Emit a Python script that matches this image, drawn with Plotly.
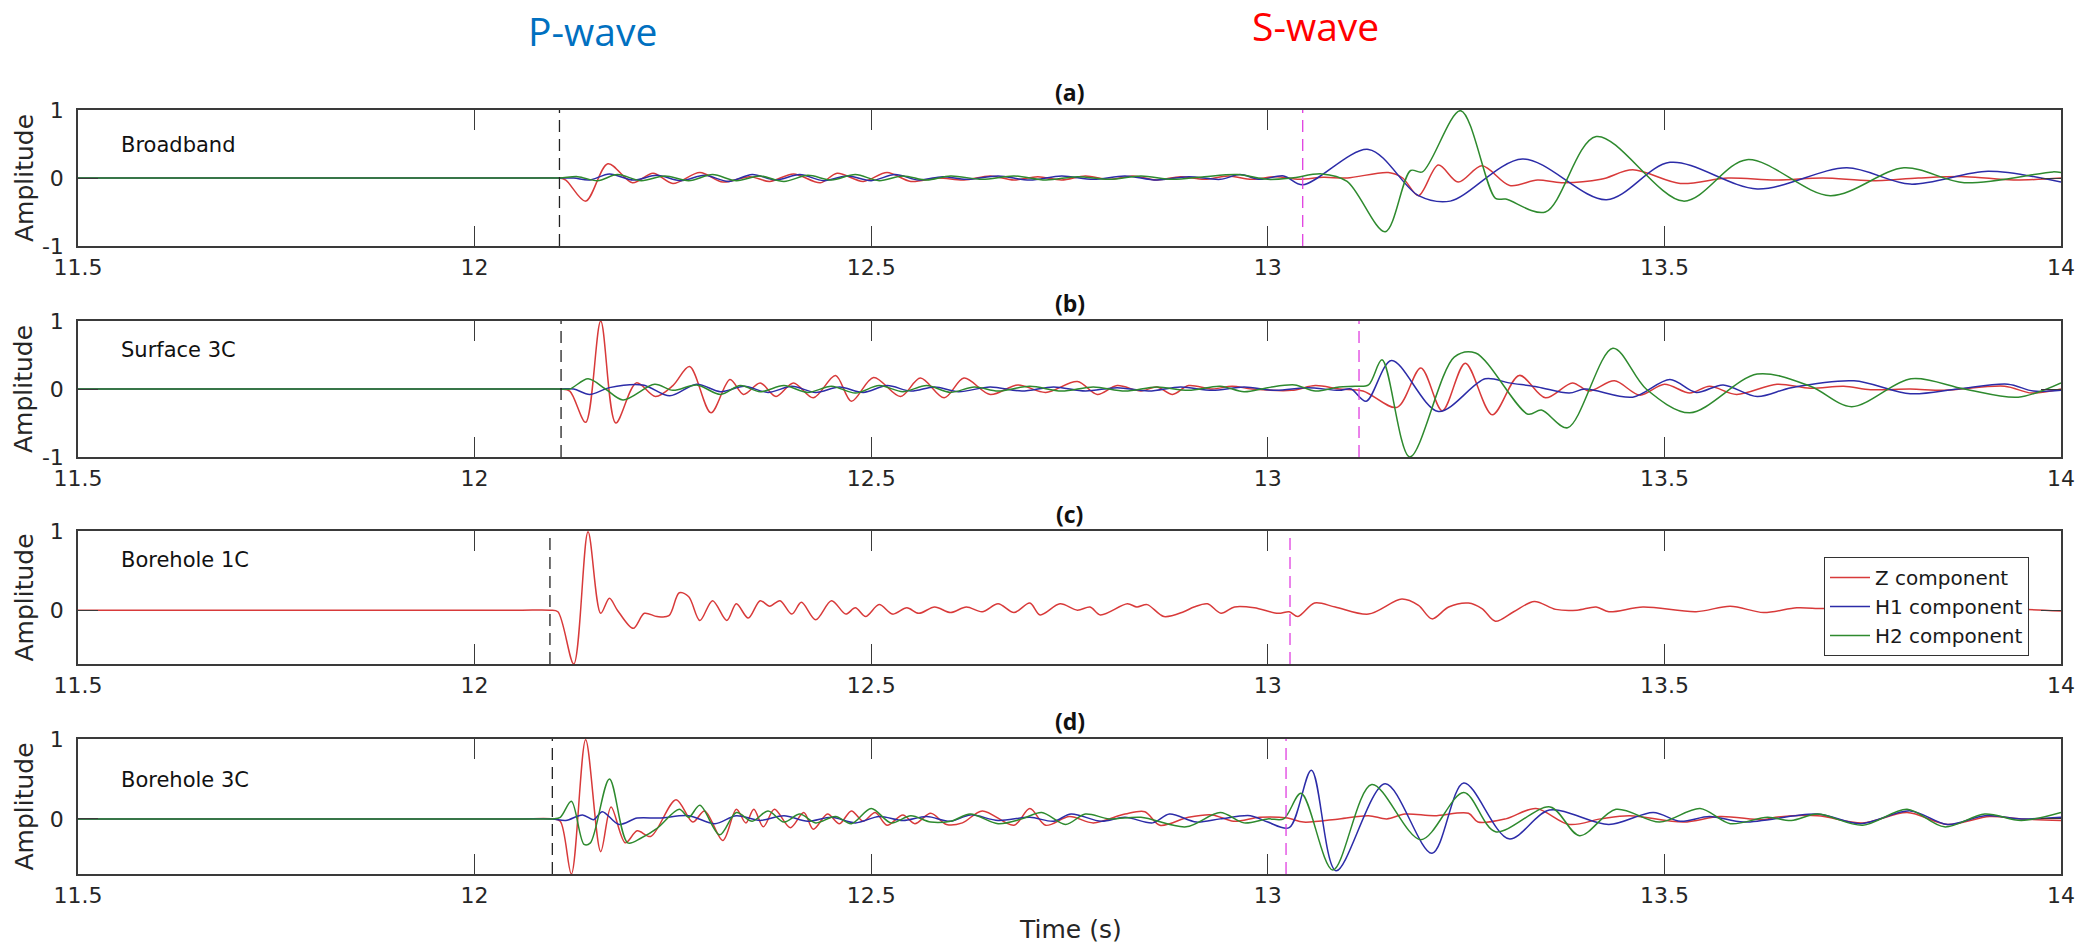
import plotly.graph_objects as go

# ---------------- data (time s, normalised amplitude) ----------------
panel_titles = ["(a)", "(b)", "(c)", "(d)"]
panel_labels = ["Broadband", "Surface 3C", "Borehole 1C", "Borehole 3C"]
component_names = ["Z component", "H1 component", "H2 component"]
x_ticks = [11.5, 12, 12.5, 13, 13.5, 14]
x_ticktext = ["11.5", "12", "12.5", "13", "13.5", "14"]
y_ranges = [[-1, 1], [-1, 1], [-0.68, 1], [-0.69, 1]]
p_picks = [12.107, 12.109, 12.095, 12.098]
s_picks = [13.044, 13.115, 13.028, 13.023]

a_Z = [(11.5, 0), (11.8, 0), (12.0, 0), (12.07, 0), (12.107, 0), (12.115, -0.03), (12.14, -0.34),
       (12.168, 0.21), (12.199, -0.07),
       (12.225, 0.07), (12.25, -0.08), (12.284, 0.08), (12.313, -0.06), (12.347, 0.02), (12.372, -0.05),
       (12.402, 0.06), (12.436, -0.07), (12.457, 0.07), (12.49, -0.05), (12.52, 0.08), (12.55, -0.05),
       (12.584, 0.0), (12.617, -0.03), (12.65, 0.03), (12.68, -0.03), (12.71, 0.02), (12.74, -0.03),
       (12.77, 0.03), (12.80, -0.02), (12.83, 0.03), (12.86, -0.03), (12.89, 0.02), (12.92, -0.02),
       (12.95, 0.03), (12.98, -0.02), (13.01, 0.02), (13.04, -0.02), (13.07, 0.01), (13.10, 0.0),
       (13.152, 0.08), (13.17, 0.0), (13.19, -0.26), (13.215, 0.19), (13.24, -0.06), (13.27, 0.18),
       (13.305, -0.11), (13.34, -0.03), (13.37, -0.07), (13.42, -0.02), (13.46, 0.12), (13.52, -0.08),
       (13.58, 0.0), (13.64, -0.03), (13.70, 0.0), (13.76, -0.04), (13.82, 0.0), (13.88, 0.02),
       (13.94, -0.03), (14.0, 0.0)]
a_H1 = [(11.5, 0), (11.8, 0), (12.0, 0), (12.07, 0), (12.107, 0), (12.125, 0.0), (12.145, -0.03),
        (12.17, 0.06), (12.20, -0.03),
        (12.23, 0.04), (12.26, -0.04), (12.29, 0.04), (12.32, -0.05), (12.35, 0.05), (12.38, -0.03),
        (12.41, 0.05), (12.44, -0.04), (12.47, 0.03), (12.50, -0.04), (12.53, 0.05), (12.56, -0.03),
        (12.59, 0.02), (12.62, -0.02), (12.66, 0.03), (12.70, -0.03), (12.74, 0.03), (12.78, -0.02),
        (12.82, 0.03), (12.86, -0.03), (12.90, 0.02), (12.94, -0.02), (12.965, 0.05), (12.99, -0.02),
        (13.02, 0.03), (13.044, -0.1), (13.127, 0.42), (13.19, -0.26), (13.23, -0.34), (13.321, 0.28),
        (13.427, -0.32), (13.507, 0.23), (13.617, -0.16), (13.73, 0.15), (13.81, -0.09), (13.908, 0.1),
        (14.0, -0.06)]
a_H2 = [(11.5, 0), (11.8, 0), (12.0, 0), (12.07, 0), (12.107, 0), (12.13, 0.02), (12.155, -0.04),
        (12.18, 0.05), (12.21, -0.04),
        (12.24, 0.03), (12.27, -0.04), (12.30, 0.05), (12.33, -0.04), (12.36, 0.03), (12.39, -0.05),
        (12.42, 0.04), (12.45, -0.03), (12.48, 0.05), (12.51, -0.04), (12.54, 0.03), (12.57, -0.03),
        (12.60, 0.03), (12.64, -0.02), (12.68, 0.03), (12.72, -0.03), (12.76, 0.02), (12.80, -0.02),
        (12.84, 0.03), (12.88, -0.02), (12.92, 0.02), (12.962, 0.05), (13.00, -0.02), (13.03, 0.0),
        (13.068, 0.06), (13.10, -0.05), (13.148, -0.79), (13.18, 0.11), (13.195, 0.09), (13.243, 0.99),
        (13.287, -0.3), (13.30, -0.31), (13.35, -0.5), (13.414, 0.61), (13.524, -0.34), (13.604, 0.27),
        (13.709, -0.26), (13.802, 0.15), (13.878, -0.07), (13.99, 0.09), (14.0, 0.08)]

b_Z = [(11.5, 0), (11.8, 0), (12.0, 0), (12.07, 0), (12.109, 0), (12.12, -0.03), (12.14, -0.49),
       (12.159, 1.0), (12.178, -0.5),
       (12.204, 0.09), (12.228, -0.11), (12.25, 0.05), (12.271, 0.33), (12.298, -0.35), (12.322, 0.14),
       (12.339, -0.08), (12.36, 0.09), (12.38, -0.11), (12.402, 0.09), (12.427, -0.13), (12.455, 0.2),
       (12.475, -0.18), (12.503, 0.17), (12.537, -0.11), (12.562, 0.16), (12.592, -0.13), (12.617, 0.16),
       (12.65, -0.08), (12.685, 0.06), (12.72, -0.05), (12.76, 0.11), (12.785, -0.08), (12.81, 0.05),
       (12.84, -0.03), (12.86, 0.03), (12.88, -0.08), (12.90, 0.05), (12.93, 0.0), (12.955, 0.04),
       (12.98, 0.0), (13.03, -0.02), (13.06, 0.05), (13.09, 0.0), (13.12, -0.03), (13.163, -0.27),
       (13.193, 0.31), (13.22, -0.32), (13.249, 0.38), (13.283, -0.38), (13.317, 0.2), (13.35, -0.13),
       (13.384, 0.09), (13.405, -0.03), (13.437, 0.12), (13.469, -0.09), (13.50, 0.07), (13.532, -0.06),
       (13.557, 0.04), (13.591, -0.08), (13.642, 0.07), (13.684, 0.01), (13.726, 0.04), (13.76, -0.01),
       (13.81, 0.0), (13.853, -0.02), (13.929, 0.04), (13.963, -0.06), (14.0, 0.0)]
b_H1 = [(11.5, 0), (11.8, 0), (12.0, 0), (12.07, 0), (12.109, 0), (12.125, 0.0), (12.145, -0.08),
        (12.17, 0.02), (12.212, 0.06),
        (12.246, -0.1), (12.28, 0.07), (12.31, -0.04), (12.34, 0.04), (12.37, -0.05), (12.40, 0.04),
        (12.43, -0.05), (12.46, 0.03), (12.49, -0.05), (12.52, 0.05), (12.55, -0.03), (12.58, 0.03),
        (12.61, -0.04), (12.65, 0.03), (12.69, -0.03), (12.73, 0.03), (12.77, -0.03), (12.81, 0.02),
        (12.85, -0.03), (12.89, 0.03), (12.93, -0.02), (12.97, 0.03), (13.01, -0.02), (13.05, 0.02),
        (13.09, -0.02), (13.105, 0.0), (13.124, -0.18), (13.156, 0.42), (13.215, -0.33), (13.274, 0.15),
        (13.304, 0.09), (13.34, 0.03), (13.38, -0.06), (13.40, 0.0), (13.46, -0.12), (13.507, 0.14),
        (13.54, -0.05), (13.574, 0.06), (13.617, -0.11), (13.66, 0.02), (13.739, 0.12), (13.81, -0.07),
        (13.87, 0.0), (13.933, 0.07), (13.965, -0.03), (14.0, -0.02)]
b_H2 = [(11.5, 0), (11.8, 0), (12.0, 0), (12.07, 0), (12.109, 0), (12.12, 0.0), (12.143, 0.15),
        (12.165, 0.0), (12.187, -0.16),
        (12.227, 0.07), (12.25, -0.02), (12.28, 0.06), (12.31, -0.08), (12.335, 0.05), (12.36, -0.04),
        (12.39, 0.05), (12.42, -0.05), (12.45, 0.04), (12.48, -0.06), (12.51, 0.05), (12.54, -0.04),
        (12.57, 0.05), (12.60, -0.05), (12.63, 0.03), (12.66, -0.03), (12.70, 0.04), (12.74, -0.03),
        (12.78, 0.03), (12.82, -0.03), (12.86, 0.03), (12.90, -0.02), (12.94, 0.04), (12.97, -0.04),
        (13.00, 0.02), (13.034, 0.06), (13.06, -0.03), (13.09, 0.03), (13.11, 0.04), (13.127, 0.06),
        (13.144, 0.43), (13.179, -1.0), (13.235, 0.47), (13.262, 0.53), (13.328, -0.37), (13.345, -0.31),
        (13.378, -0.57), (13.435, 0.6), (13.477, 0.0), (13.532, -0.35), (13.617, 0.22), (13.684, 0.04),
        (13.736, -0.26), (13.811, 0.15), (13.878, 0.0), (13.946, -0.12), (14.0, 0.09)]

c_Z = [(11.5, 0), (11.8, 0), (12.0, 0), (12.06, 0), (12.095, 0), (12.105, -0.02), (12.125, -0.68),
       (12.143, 0.99), (12.159, -0.04),
       (12.17, 0.15), (12.18, 0.0), (12.2, -0.23), (12.214, -0.04), (12.23, -0.08), (12.245, -0.07),
       (12.258, 0.22), (12.27, 0.17), (12.284, -0.13), (12.30, 0.12), (12.318, -0.13), (12.33, 0.08),
       (12.345, -0.1), (12.36, 0.12), (12.372, 0.05), (12.385, 0.12), (12.40, -0.05), (12.412, 0.1),
       (12.43, -0.12), (12.45, 0.12), (12.468, -0.05), (12.48, 0.03), (12.493, -0.08), (12.51, 0.07),
       (12.527, -0.05), (12.545, 0.03), (12.56, -0.04), (12.58, 0.04), (12.60, -0.03), (12.62, 0.04),
       (12.64, -0.02), (12.66, 0.08), (12.68, -0.03), (12.70, 0.09), (12.713, -0.06), (12.738, 0.08),
       (12.76, 0.0), (12.776, 0.04), (12.789, -0.06), (12.823, 0.08), (12.835, 0.04), (12.848, 0.07),
       (12.869, -0.08), (12.894, -0.02), (12.907, 0.04), (12.924, 0.08), (12.941, -0.04), (12.958, 0.04),
       (12.983, 0.03), (13.013, -0.04), (13.027, -0.02), (13.038, -0.08), (13.059, 0.09), (13.085, 0.04),
       (13.127, -0.05), (13.169, 0.14), (13.19, 0.06), (13.207, -0.11), (13.228, 0.04), (13.253, 0.09),
       (13.27, 0.02), (13.287, -0.14), (13.31, -0.02), (13.336, 0.11), (13.363, 0.01), (13.39, 0.0),
       (13.414, 0.04), (13.43, -0.02), (13.473, 0.04), (13.54, -0.02), (13.583, 0.05), (13.625, -0.03),
       (13.667, 0.03), (13.70, 0.02), (13.75, 0.03), (13.80, -0.01), (13.85, 0.02), (13.90, 0.0),
       (13.95, 0.01), (14.0, -0.01)]

d_Z = [(11.5, 0), (11.8, 0), (12.0, 0), (12.06, 0), (12.098, 0), (12.108, -0.03), (12.122, -0.69),
       (12.14, 0.99), (12.159, -0.41),
       (12.172, 0.15), (12.19, -0.3), (12.205, -0.15), (12.222, -0.22), (12.254, 0.24), (12.275, -0.04),
       (12.29, 0.1), (12.313, -0.27), (12.33, 0.12), (12.342, -0.05), (12.352, 0.12), (12.364, -0.1),
       (12.378, 0.12), (12.398, -0.11), (12.415, 0.08), (12.427, -0.13), (12.445, 0.06), (12.46, -0.06),
       (12.475, 0.1), (12.49, -0.03), (12.505, 0.08), (12.52, -0.08), (12.54, 0.05), (12.555, -0.06),
       (12.575, 0.07), (12.595, -0.07), (12.615, -0.05), (12.64, 0.1), (12.68, -0.08), (12.70, 0.13),
       (12.72, -0.08), (12.75, 0.03), (12.78, -0.05), (12.82, 0.06), (12.845, 0.09), (12.864, -0.08),
       (12.90, 0.02), (12.93, 0.05), (12.957, -0.03), (12.99, 0.02), (13.025, 0.01), (13.045, -0.04),
       (13.09, 0.0), (13.127, 0.04), (13.15, 0.0), (13.173, 0.06), (13.21, 0.04), (13.253, 0.07),
       (13.265, -0.04), (13.30, 0.0), (13.338, 0.13), (13.38, -0.07), (13.42, 0.0), (13.456, 0.04),
       (13.524, -0.04), (13.57, 0.03), (13.625, -0.01), (13.64, 0.02), (13.693, 0.04), (13.75, -0.05),
       (13.806, 0.08), (13.857, -0.07), (13.91, 0.03), (13.95, 0.0), (14.0, -0.02)]
d_H1 = [(11.5, 0), (11.8, 0), (12.0, 0), (12.06, 0), (12.098, 0), (12.115, -0.02), (12.136, 0.05),
        (12.15, -0.01), (12.161, 0.09),
        (12.182, -0.07), (12.205, 0.01), (12.233, 0.01), (12.27, 0.04), (12.303, -0.06), (12.33, 0.04),
        (12.36, -0.02), (12.39, 0.04), (12.42, -0.03), (12.45, 0.02), (12.48, -0.05), (12.51, 0.03),
        (12.54, -0.02), (12.57, 0.03), (12.60, -0.03), (12.625, 0.05), (12.66, -0.02), (12.70, 0.02),
        (12.73, -0.03), (12.752, 0.06), (12.79, -0.03), (12.82, 0.02), (12.855, -0.05), (12.876, 0.06),
        (12.91, -0.04), (12.94, 0.0), (12.978, 0.04), (13.0, -0.04), (13.027, -0.11), (13.055, 0.61),
        (13.086, -0.65), (13.148, 0.44), (13.207, -0.43), (13.247, 0.45), (13.304, -0.25), (13.355, 0.11),
        (13.43, -0.07), (13.486, 0.08), (13.52, -0.03), (13.557, 0.03), (13.60, -0.04), (13.693, 0.06),
        (13.747, -0.06), (13.81, 0.1), (13.857, -0.07), (13.904, 0.04), (13.95, 0.0), (14.0, 0.02)]
d_H2 = [(11.5, 0), (11.8, 0), (12.0, 0), (12.06, 0), (12.098, 0), (12.108, 0.02), (12.122, 0.22),
        (12.138, -0.32), (12.146, -0.3),
        (12.17, 0.5), (12.193, -0.3), (12.21, -0.24), (12.23, -0.12), (12.258, 0.12), (12.27, 0.02),
        (12.284, 0.17), (12.309, -0.2), (12.33, 0.08), (12.35, -0.03), (12.37, 0.1), (12.39, -0.04),
        (12.41, 0.06), (12.43, -0.05), (12.455, 0.03), (12.475, -0.06), (12.50, 0.13), (12.525, -0.05),
        (12.55, 0.04), (12.575, -0.04), (12.60, -0.03), (12.625, 0.06), (12.66, -0.06), (12.69, 0.0),
        (12.715, 0.08), (12.745, -0.07), (12.77, 0.06), (12.80, 0.0), (12.84, 0.02), (12.897, -0.1),
        (12.94, 0.08), (12.97, -0.05), (13.0, 0.0), (13.02, 0.0), (13.042, 0.32), (13.082, -0.64),
        (13.131, 0.43), (13.193, -0.26), (13.247, 0.33), (13.287, -0.16), (13.356, 0.15), (13.393, -0.21),
        (13.439, 0.12), (13.494, -0.04), (13.545, 0.13), (13.583, -0.06), (13.63, 0.02), (13.66, -0.02),
        (13.693, 0.06), (13.75, -0.08), (13.806, 0.12), (13.853, -0.1), (13.904, 0.06), (13.95, -0.02),
        (14.0, 0.08)]

panel_traces = [
    [a_Z, a_H1, a_H2],
    [b_Z, b_H1, b_H2],
    [c_Z],
    [d_Z, d_H1, d_H2],
]

# ---------------- styling / layout ----------------
W, H = 2093, 945
colors = ["#d83a3a", "#2c2ca8", "#2e8a2e"]
axis_color = "#3a3a3a"
X0, X1 = 78, 2061                 # plot box, px
boxes = [(110, 246), (321, 457), (531, 664), (739, 874)]
title_y = [92, 303, 514, 721]
label_y = [145, 350, 560, 780]


def px_x(p):
    return p / W


def px_y(p):
    return 1 - p / H


fig = go.Figure()
layout = dict(
    width=W, height=H, margin=dict(l=0, r=0, t=0, b=0, pad=0, autoexpand=False),
    paper_bgcolor="white", plot_bgcolor="white",
    showlegend=True,
    legend=dict(x=px_x(1824), y=px_y(557), xanchor="left", yanchor="top",
                bgcolor="white", bordercolor="#333333", borderwidth=1,
                font=dict(family="DejaVu Sans", size=20, color="#1a1a1a"),
                tracegroupgap=0, itemwidth=40),
)
shapes, annotations = [], []

for i, traces in enumerate(panel_traces):
    sfx = "" if i == 0 else str(i + 1)
    xa, ya = f"x{sfx}", f"y{sfx}"
    for j, series in enumerate(traces):
        t = [p[0] for p in series]
        a = [p[1] for p in series]
        fig.add_trace(go.Scatter(
            x=t, y=a, xaxis=xa, yaxis=ya, mode="lines",
            name=component_names[j], legendgroup=component_names[j],
            showlegend=(i == 0),
            line=dict(color=colors[j], width=1.5, shape="spline", smoothing=0.9),
            hoverinfo="skip"))
    top, bot = boxes[i]
    yr = y_ranges[i]
    yt = [v for v in [-1, 0, 1] if yr[0] <= v <= yr[1]]
    layout[f"xaxis{sfx}"] = dict(
        domain=[px_x(X0), px_x(X1)], anchor=ya, range=[11.5, 14], automargin=False,
        tickvals=x_ticks, ticktext=x_ticktext, ticks="inside", ticklen=20,
        tickwidth=1, tickcolor=axis_color, showline=True, linecolor=axis_color,
        linewidth=1.5, mirror="ticks", showgrid=False, zeroline=False,
        ticklabelstandoff=1,
        tickfont=dict(family="DejaVu Sans", size=22, color="#262626"))
    layout[f"yaxis{sfx}"] = dict(
        domain=[px_y(bot), px_y(top)], anchor=xa, range=yr, automargin=False,
        tickvals=yt, ticktext=[str(v) for v in yt], ticks="inside", ticklen=20,
        tickwidth=1, tickcolor=axis_color, showline=True, linecolor=axis_color,
        linewidth=1.5, mirror="ticks", showgrid=False, zeroline=False,
        ticklabelstandoff=8,
        tickfont=dict(family="DejaVu Sans", size=22, color="#262626"))
    # arrival picks
    shapes.append(dict(type="line", xref=xa, yref=f"{ya} domain", x0=p_picks[i], x1=p_picks[i],
                       y0=0, y1=1, line=dict(color="#222222", width=1.3, dash="12px,7px")))
    shapes.append(dict(type="line", xref=xa, yref=f"{ya} domain", x0=s_picks[i], x1=s_picks[i],
                       y0=0, y1=1, line=dict(color="#e040e0", width=1.3, dash="12px,7px")))
    # titles / labels
    annotations.append(dict(text=f"<b>{panel_titles[i]}</b>", xref="paper", yref="paper",
                            x=px_x((X0 + X1) / 2), y=px_y(title_y[i]), showarrow=False,
                            xanchor="center", yanchor="middle",
                            font=dict(family="Open Sans", size=23, color="#111111")))
    annotations.append(dict(text=panel_labels[i], xref="paper", yref="paper",
                            x=px_x(119), y=px_y(label_y[i]), showarrow=False,
                            xanchor="left", yanchor="middle",
                            font=dict(family="DejaVu Sans", size=21, color="#111111")))
    annotations.append(dict(text="Amplitude", xref="paper", yref="paper", textangle=-90,
                            x=px_x(24), y=px_y((top + bot) / 2), showarrow=False,
                            xanchor="center", yanchor="middle",
                            font=dict(family="DejaVu Sans", size=25, color="#262626")))

annotations.append(dict(text="Time (s)", xref="paper", yref="paper", x=px_x(1070), y=px_y(929),
                        showarrow=False, xanchor="center", yanchor="middle",
                        font=dict(family="DejaVu Sans", size=25, color="#262626")))
annotations.append(dict(text="P-wave", xref="paper", yref="paper", x=px_x(592), y=px_y(30),
                        showarrow=False, xanchor="center", yanchor="middle",
                        font=dict(family="Open Sans", size=39, color="#0070C0")))
annotations.append(dict(text="S-wave", xref="paper", yref="paper", x=px_x(1315), y=px_y(26),
                        showarrow=False, xanchor="center", yanchor="middle",
                        font=dict(family="Open Sans", size=39, color="#FF0000")))

layout["shapes"] = shapes
layout["annotations"] = annotations
fig.update_layout(**layout)
fig.write_html("out.html")
